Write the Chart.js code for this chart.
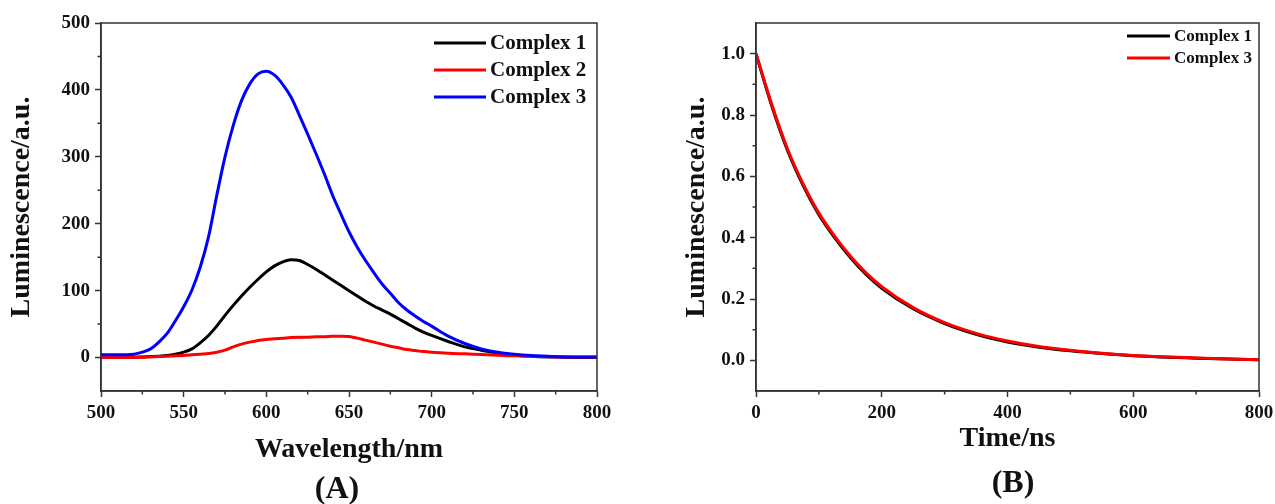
<!DOCTYPE html>
<html>
<head>
<meta charset="utf-8">
<script src="https://cdn.jsdelivr.net/npm/chart.js@4.4.1/dist/chart.umd.min.js"></script>
<style>
  body { margin: 0; background: #fff; }
  .wrap { position: relative; width: 1275px; height: 504px; overflow: hidden; }
  .panel { position: absolute; top: 0; }
  .tag { position: absolute; font: bold 32px "Liberation Serif", serif; color: #111;
         line-height: 1; transform: translate(-50%, -50%); }
</style>
</head>
<body>
<div class="wrap">
  <div class="panel" style="left:0"><canvas id="chartA" width="640" height="504"></canvas></div>
  <div class="panel" style="left:680px"><canvas id="chartB" width="595" height="504"></canvas></div>
  <div class="tag" style="left:337px; top:487px">(A)</div>
  <div class="tag" style="left:1013px; top:481px">(B)</div>
</div>
<script>
// (A) emission spectra
const wavelength = [500, 510, 520, 525, 530, 535, 540, 545, 550, 555, 560, 565, 570, 575, 580, 585, 590, 595,
  600, 605, 610, 615, 620, 625, 630, 635, 640, 645, 650, 655, 660, 665, 670, 675, 680, 685, 690, 695,
  700, 710, 720, 730, 740, 750, 760, 770, 780, 790, 800];
const complex1 = [0, 0, 0.5, 1, 1.5, 2, 3, 5, 8, 13, 22, 33, 47, 63, 78, 92, 105, 117,
  128, 137, 143, 146, 145, 139, 132, 124, 116, 108, 100, 92, 84, 77, 71, 65, 58, 51, 44, 38,
  33, 24, 16, 11, 6.5, 3.5, 2, 1, 0.5, 0, 0];
const complex2 = [0, 0, 0.5, 0.5, 1, 1.5, 2, 2.5, 3, 4, 5, 6, 8, 11, 16, 20, 23, 25.5,
  27, 28, 29, 30, 30.5, 30.5, 31, 31, 32, 32, 31.5, 29, 26, 23, 20, 17, 14.5, 12, 10.5, 9,
  8, 6.5, 5.5, 4.5, 3.5, 2.5, 2, 1.5, 1, 1, 1];
const complex3 = [4, 4, 5, 8, 13, 23, 36, 55, 76, 101, 135, 180, 242, 300, 347, 384, 409, 424,
  428, 422, 408, 389, 362, 334, 305, 275, 243, 215, 188, 165, 145, 127, 110, 96, 82, 71, 62, 54,
  47, 32, 21, 13, 8, 5, 3, 2, 1, 1, 1];
const xTicksA = [500, 550, 600, 650, 700, 750, 800];
const xMinorA = [525, 575, 625, 675, 725, 775];
const yTicksA = [0, 100, 200, 300, 400, 500];
const yMinorA = [50, 150, 250, 350, 450];

// (B) decay curves
const time = [0, 25, 50, 75, 100, 125, 150, 175, 200, 250, 300, 350, 400, 450, 500, 550, 600, 700, 800];
const decay1 = [1.0, 0.83, 0.685, 0.57, 0.475, 0.40, 0.335, 0.28, 0.235, 0.168, 0.12, 0.085, 0.06, 0.043, 0.031, 0.022, 0.015, 0.007, 0.002];
const decay3 = [1.0, 0.835, 0.69, 0.575, 0.48, 0.405, 0.34, 0.285, 0.24, 0.172, 0.123, 0.088, 0.063, 0.045, 0.033, 0.023, 0.016, 0.008, 0.002];
const xTicksB = [0, 200, 400, 600, 800];
const xMinorB = [100, 300, 500, 700];
const yTicksB = [0, 0.2, 0.4, 0.6, 0.8, 1.0];
const yMinorB = [0.1, 0.3, 0.5, 0.7, 0.9];

const FONT = 'Liberation Serif';
const ink = '#111';
const axisColor = '#333';

function pts(xs, ys) {
  return xs.map((x, i) => ({ x: x, y: ys[i] }));
}

function line(label, color, data, order) {
  return {
    label: label, data: data, borderColor: color, backgroundColor: color,
    borderWidth: 3, pointRadius: 0, fill: false,
    cubicInterpolationMode: 'monotone', order: order
  };
}

// plot frame + short minor ticks
function frame(xMinor, yMinor) {
  return {
    id: 'frame',
    afterDraw(chart) {
      const { ctx, chartArea: a, scales } = chart;
      ctx.save();
      ctx.strokeStyle = axisColor;
      ctx.lineWidth = 1.5;
      ctx.strokeRect(a.left, a.top, a.right - a.left, a.bottom - a.top);
      ctx.beginPath();
      xMinor.forEach(v => {
        const px = scales.x.getPixelForValue(v);
        ctx.moveTo(px, a.bottom); ctx.lineTo(px, a.bottom + 3.5);
      });
      yMinor.forEach(v => {
        const py = scales.y.getPixelForValue(v);
        ctx.moveTo(a.left, py); ctx.lineTo(a.left - 3.5, py);
      });
      ctx.stroke();
      ctx.restore();
    }
  };
}

// legend drawn inside the plot
function legend(x, y, rowH, lineLen, size) {
  return {
    id: 'insideLegend',
    afterDatasetsDraw(chart) {
      const ctx = chart.ctx;
      ctx.save();
      ctx.font = 'bold ' + size + 'px "' + FONT + '"';
      ctx.textBaseline = 'middle';
      chart.data.datasets.forEach((ds, i) => {
        const yy = y + i * rowH;
        ctx.strokeStyle = ds.borderColor;
        ctx.lineWidth = 3;
        ctx.beginPath();
        ctx.moveTo(x, yy); ctx.lineTo(x + lineLen, yy);
        ctx.stroke();
        ctx.fillStyle = ink;
        ctx.fillText(ds.label, x + lineLen + 4, yy + 1);
      });
      ctx.restore();
    }
  };
}

function axes(o) {
  const tickFont = { family: FONT, size: 19, weight: 'bold' };
  const titleFont = { family: FONT, size: 28, weight: 'bold' };
  return {
    x: {
      type: 'linear', min: o.xMin, max: o.xMax,
      afterBuildTicks: s => { s.ticks = o.xTicks.map(v => ({ value: v })); },
      afterFit: s => { s.height = 113; s.paddingLeft = 0; s.paddingRight = 0; },
      grid: { drawOnChartArea: false, tickLength: 6, tickColor: axisColor, tickWidth: 1.5 },
      border: { color: axisColor, width: 1.5 },
      ticks: { color: ink, font: tickFont, padding: 5, maxRotation: 0, autoSkip: false },
      title: { display: true, text: o.xTitle, color: ink, font: titleFont, padding: { bottom: o.xTitlePad } }
    },
    y: {
      min: o.yMin, max: o.yMax,
      afterBuildTicks: s => { s.ticks = o.yTicks.map(v => ({ value: v })); },
      afterFit: s => { s.width = o.yWidth; s.paddingTop = 0; s.paddingBottom = 0; },
      grid: { drawOnChartArea: false, tickLength: 6, tickColor: axisColor, tickWidth: 1.5 },
      border: { color: axisColor, width: 1.5 },
      ticks: { color: ink, font: tickFont, padding: 5, callback: o.yFmt },
      title: { display: true, text: 'Luminescence/a.u.', color: ink, font: titleFont, padding: { top: o.yTitlePad } }
    }
  };
}

new Chart(document.getElementById('chartA'), {
  type: 'line',
  data: {
    datasets: [
      line('Complex 1', '#000000', pts(wavelength, complex1), 2),
      line('Complex 2', '#ff0000', pts(wavelength, complex2), 1),
      line('Complex 3', '#0000ff', pts(wavelength, complex3), 0)
    ]
  },
  options: {
    responsive: false, animation: false,
    layout: { padding: { top: 23, right: 43, bottom: 0, left: 0 } },
    plugins: { legend: { display: false }, tooltip: { enabled: false } },
    scales: axes({
      xMin: 500, xMax: 800, xTicks: xTicksA, xTitle: 'Wavelength/nm', xTitlePad: 37,
      yMin: -50, yMax: 500, yTicks: yTicksA, yWidth: 101, yTitlePad: 5,
      yFmt: v => String(v)
    })
  },
  plugins: [frame(xMinorA, yMinorA), legend(434, 43, 27, 52, 21)]
});

new Chart(document.getElementById('chartB'), {
  type: 'line',
  data: {
    datasets: [
      line('Complex 1', '#000000', pts(time, decay1), 1),
      line('Complex 3', '#ff0000', pts(time, decay3), 0)
    ]
  },
  options: {
    responsive: false, animation: false,
    layout: { padding: { top: 23, right: 16, bottom: 0, left: 0 } },
    plugins: { legend: { display: false }, tooltip: { enabled: false } },
    scales: axes({
      xMin: 0, xMax: 800, xTicks: xTicksB, xTitle: 'Time/ns', xTitlePad: 48,
      yMin: -0.1, yMax: 1.1, yTicks: yTicksB, yWidth: 76, yTitlePad: 0,
      yFmt: v => v.toFixed(1)
    })
  },
  plugins: [frame(xMinorB, yMinorB), legend(447, 36, 22, 43, 17)]
});
</script>
</body>
</html>
